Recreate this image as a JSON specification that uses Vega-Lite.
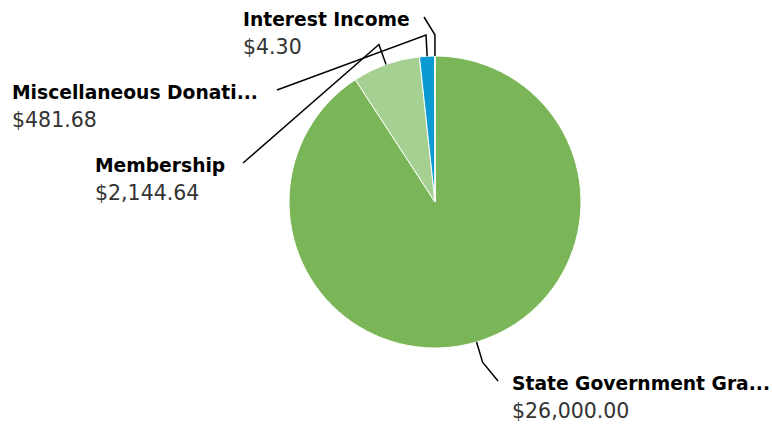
{
  "$schema": "https://vega.github.io/schema/vega-lite/v6.json",
  "width": 772,
  "height": 427,
  "padding": 0,
  "autosize": {"type": "none"},
  "background": "white",
  "config": {"view": {"stroke": null}},
  "data": {
    "values": [
      {"category": "State Government Grants", "amount": 26000.00},
      {"category": "Membership", "amount": 2144.64},
      {"category": "Miscellaneous Donations", "amount": 481.68},
      {"category": "Interest Income", "amount": 4.30}
    ]
  },
  "transform": [
    {"joinaggregate": [{"op": "sum", "field": "amount", "as": "total"}]},
    {"window": [{"op": "row_number", "as": "rank"}, {"op": "sum", "field": "amount", "as": "cum"}], "frame": [null, 0]},
    {"calculate": "2*PI*(datum.cum - datum.amount)/datum.total", "as": "a0"},
    {"calculate": "2*PI*datum.cum/datum.total", "as": "a1"},
    {"calculate": "2*PI*(datum.cum - datum.amount/2)/datum.total", "as": "mid"},
    {"calculate": "length(datum.category) > 20 ? substring(datum.category, 0, 20) + '...' : datum.category", "as": "label"},
    {"calculate": "datum.category == 'Interest Income' ? -0.0753 : datum.category == 'Miscellaneous Donations' ? -1.0822 : datum.category == 'Membership' ? -1.3151 : 0.4315", "as": "ex"},
    {"calculate": "datum.category == 'Interest Income' ? 1.2671 : datum.category == 'Miscellaneous Donations' ? 0.7671 : datum.category == 'Membership' ? 0.2671 : -1.2260", "as": "ey"},
    {"calculate": "datum.category == 'Interest Income' ? -1.3151 : datum.category == 'Miscellaneous Donations' ? -2.8973 : datum.category == 'Membership' ? -2.3288 : 0.5274", "as": "tx"},
    {"calculate": "datum.category == 'Interest Income' ? 1.2055 : datum.category == 'Miscellaneous Donations' ? 0.7055 : datum.category == 'Membership' ? 0.2055 : -1.2877", "as": "ty"}
  ],
  "layer": [
    {
      "mark": {"type": "arc", "outerRadius": 146, "stroke": "white", "strokeWidth": 1},
      "encoding": {
        "x": {"datum": 0, "type": "quantitative", "scale": {"domain": [-2.9795, 2.3082], "nice": false, "zero": false}, "axis": null},
        "y": {"datum": 0, "type": "quantitative", "scale": {"domain": [-1.5411, 1.3836], "nice": false, "zero": false}, "axis": null},
        "theta": {"field": "a0", "type": "quantitative", "scale": null},
        "theta2": {"field": "a1"},
        "color": {
          "field": "category",
          "type": "nominal",
          "scale": {
            "domain": ["State Government Grants", "Membership", "Miscellaneous Donations", "Interest Income"],
            "range": ["#7ab657", "#a6d091", "#0b9ad1", "#f2a33a"]
          },
          "legend": null
        }
      }
    },
    {
      "transform": [
        {"calculate": "[0, 1, 2]", "as": "pts"},
        {"flatten": ["pts"], "as": ["p"]},
        {"calculate": "datum.p == 0 ? sin(datum.mid) : datum.p == 1 ? 1.145*sin(datum.mid) : datum.ex", "as": "lx"},
        {"calculate": "datum.p == 0 ? cos(datum.mid) : datum.p == 1 ? 1.145*cos(datum.mid) : datum.ey", "as": "ly"}
      ],
      "mark": {"type": "line", "color": "black", "strokeWidth": 1.5},
      "encoding": {
        "x": {"field": "lx", "type": "quantitative", "axis": null},
        "y": {"field": "ly", "type": "quantitative", "axis": null},
        "detail": {"field": "category"},
        "order": {"field": "p"}
      }
    },
    {
      "mark": {"type": "text", "align": "left", "baseline": "alphabetic", "font": "DejaVu Sans", "fontWeight": "bold", "fontSize": 18.7, "color": "black"},
      "encoding": {
        "x": {"field": "tx", "type": "quantitative", "axis": null},
        "y": {"field": "ty", "type": "quantitative", "axis": null},
        "text": {"field": "label"}
      }
    },
    {
      "mark": {"type": "text", "align": "left", "baseline": "alphabetic", "dy": 27.5, "font": "DejaVu Sans", "fontSize": 20.5, "color": "#333333"},
      "encoding": {
        "x": {"field": "tx", "type": "quantitative", "axis": null},
        "y": {"field": "ty", "type": "quantitative", "axis": null},
        "text": {"field": "amount", "format": "$,.2f"}
      }
    }
  ]
}
